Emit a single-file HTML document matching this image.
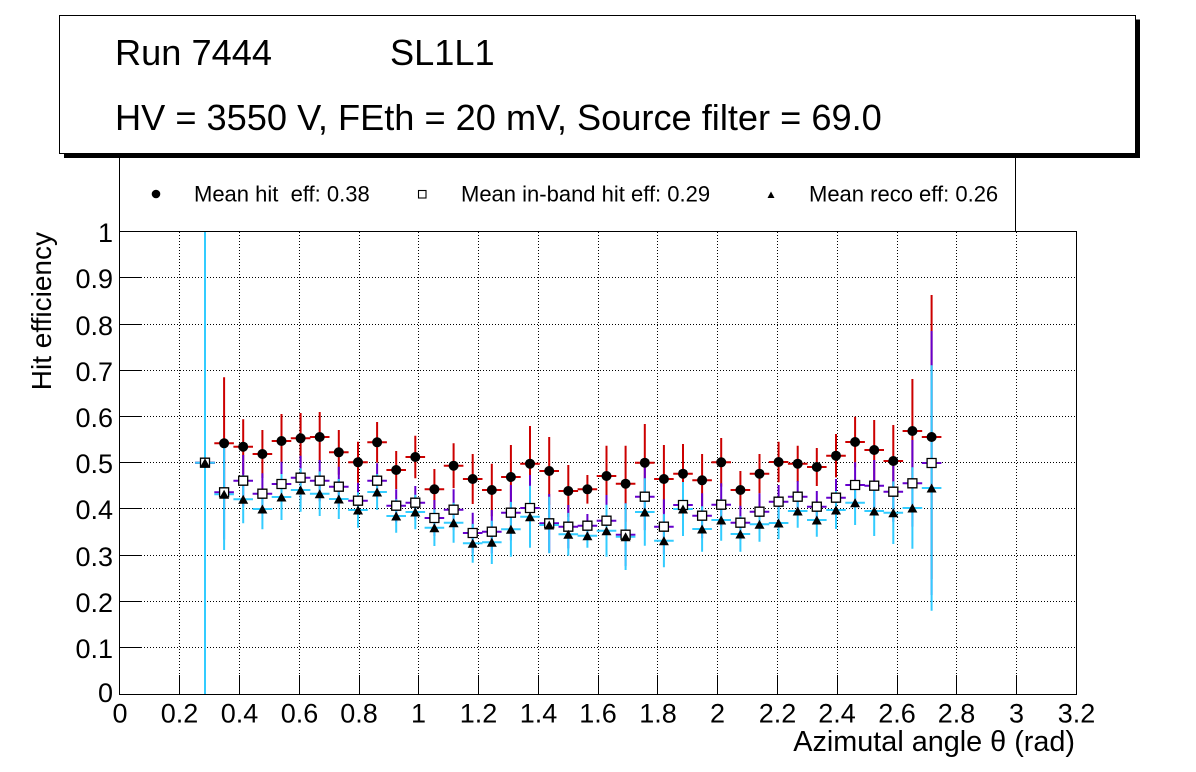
<!DOCTYPE html>
<html>
<head>
<meta charset="utf-8">
<style>
html,body{margin:0;padding:0;background:#fff;}
svg{display:block;}
text{font-family:"Liberation Sans",Arial,sans-serif;fill:#000;}
</style>
</head>
<body>
<svg width="1196" height="772" viewBox="0 0 1196 772" xmlns="http://www.w3.org/2000/svg">
<rect x="0" y="0" width="1196" height="772" fill="#fff"/>

<!-- Legend box -->
<rect x="119.5" y="140.5" width="896" height="91" fill="#fff" stroke="#000" stroke-width="1"/>
<circle cx="156" cy="194" r="4.3" fill="#000"/>
<rect x="418.5" y="190.5" width="7.5" height="7.5" fill="#fff" stroke="#000" stroke-width="1.1"/>
<path d="M767.5 198h7l-3.5-6.5z" fill="#000"/>
<text x="194" y="201.5" font-size="22" xml:space="preserve">Mean hit  eff: 0.38</text>
<text x="461" y="201.5" font-size="22">Mean in-band hit eff: 0.29</text>
<text x="809" y="201.5" font-size="22">Mean reco eff: 0.26</text>

<!-- Header box with shadow -->
<rect x="64" y="19.5" width="1076" height="138.5" fill="#000"/>
<rect x="59.5" y="15.5" width="1076" height="138" fill="#fff" stroke="#000" stroke-width="1"/>
<text x="115" y="65" font-size="36.2">Run 7444</text>
<text x="390" y="65" font-size="36.2">SL1L1</text>
<text x="115" y="130" font-size="36.2">HV = 3550 V, FEth = 20 mV, Source filter = 69.0</text>

<!-- Grid -->
<g stroke="#000" stroke-width="1" stroke-dasharray="1 2" fill="none">
<path d="M179.5 232V694M239.5 232V694M299.5 232V694M359.5 232V694M418.5 232V694M478.5 232V694M538.5 232V694M598.5 232V694M657.5 232V694M717.5 232V694M777.5 232V694M837.5 232V694M897.5 232V694M956.5 232V694M1016.5 232V694"/>
<path d="M120 277.5H1076M120 324.5H1076M120 370.5H1076M120 416.5H1076M120 462.5H1076M120 508.5H1076M120 555.5H1076M120 601.5H1076M120 647.5H1076"/>
</g>

<!-- Frame -->
<rect x="119.5" y="231.5" width="957" height="463" fill="none" stroke="#000" stroke-width="1"/>
<!-- Ticks -->
<g stroke="#000" stroke-width="1" fill="none">
<path d="M120 277.5H141M120 324.5H141M120 370.5H141M120 416.5H141M120 462.5H141M120 508.5H141M120 555.5H141M120 601.5H141M120 647.5H141"/>
<path d="M179.5 694V675M239.5 694V675M299.5 694V675M359.5 694V675M418.5 694V675M478.5 694V675M538.5 694V675M598.5 694V675M657.5 694V675M717.5 694V675M777.5 694V675M837.5 694V675M897.5 694V675M956.5 694V675M1016.5 694V675"/>
</g>

<!-- Y tick labels -->
<g font-size="27" text-anchor="end">
<text x="113" y="242">1</text>
<text x="113" y="288">0.9</text>
<text x="113" y="335">0.8</text>
<text x="113" y="381">0.7</text>
<text x="113" y="427">0.6</text>
<text x="113" y="473">0.5</text>
<text x="113" y="519">0.4</text>
<text x="113" y="566">0.3</text>
<text x="113" y="612">0.2</text>
<text x="113" y="658">0.1</text>
<text x="113" y="702">0</text>
</g>
<!-- X tick labels -->
<g font-size="27" text-anchor="middle">
<text x="120" y="722.5">0</text>
<text x="179.5" y="722.5">0.2</text>
<text x="239.5" y="722.5">0.4</text>
<text x="299.5" y="722.5">0.6</text>
<text x="359" y="722.5">0.8</text>
<text x="418.5" y="722.5">1</text>
<text x="478.5" y="722.5">1.2</text>
<text x="538.5" y="722.5">1.4</text>
<text x="598" y="722.5">1.6</text>
<text x="658" y="722.5">1.8</text>
<text x="717.5" y="722.5">2</text>
<text x="777.5" y="722.5">2.2</text>
<text x="837" y="722.5">2.4</text>
<text x="897" y="722.5">2.6</text>
<text x="956.5" y="722.5">2.8</text>
<text x="1016.5" y="722.5">3</text>
<text x="1076.5" y="722.5">3.2</text>
</g>

<!-- Axis titles -->
<text x="1075" y="751" font-size="28.8" text-anchor="end">Azimutal angle θ (rad)</text>
<text transform="translate(51,232) rotate(-90)" font-size="28" text-anchor="end">Hit efficiency</text>

<!-- Red error bars -->
<path fill="none" stroke="#cc0000" stroke-width="2" d="M205 232V694M195.2 462.7H214.8
M224.1 377.3V509.3M214.3 443.3H233.9
M243.2 419.3V474.1M233.4 446.7H253
M262.4 430V478M252.6 454H272.2
M281.5 414V468M271.7 441H291.3
M300.6 413V463.6M290.8 438.3H310.4
M319.7 412V462M309.9 437H329.5
M338.8 430V474.6M329 452.3H348.6
M358 441.7V482.9M348.2 462.3H367.8
M377.1 422V462.6M367.3 442.3H386.9
M396.2 451V489M386.4 470H406
M415.3 435.7V478.3M405.5 457H425.1
M434.4 469V509.6M424.6 489.3H444.2
M453.6 443.3V488.1M443.8 465.7H463.4
M472.7 454V504M462.9 479H482.5
M491.8 463.7V516.3M482 490H501.6
M510.9 445V509M501.1 477H520.7
M530 426V501.4M520.2 463.7H539.8
M549.2 437V505M539.4 471H559
M568.3 465V517M558.5 491H578.1
M587.4 475V503.6M577.6 489.3H597.2
M606.5 445.7V506.3M596.7 476H616.3
M625.6 445.7V521.7M615.8 483.7H635.4
M644.8 424V501.4M635 462.7H654.6
M663.9 445V513M654.1 479H673.7
M683 444V503.4M673.2 473.7H692.8
M702.1 454V506.6M692.3 480.3H711.9
M721.2 438V486.6M711.4 462.3H731
M740.4 471V509M730.6 490H750.2
M759.5 454V493.4M749.7 473.7H769.3
M778.6 441.7V482.3M768.8 462H788.4
M797.7 445.7V481.7M787.9 463.7H807.5
M816.8 448V486M807 467H826.6
M836 434V477.4M826.2 455.7H845.8
M855.1 416.7V467.3M845.3 442H864.9
M874.2 420V480M864.4 450H884
M893.3 425V497M883.5 461H903.1
M912.4 379V483M902.6 431H922.2
M931.6 295V579M921.8 437H941.4"/>

<!-- Purple error bars -->
<path fill="none" stroke="#6600cc" stroke-width="2" d="M205 232V694M195.2 462.7H214.8
M224.1 445V539.6M214.3 492.3H233.9
M243.2 455V506.4M233.4 480.7H253
M262.4 473.3V514.1M252.6 493.7H272.2
M281.5 461.7V506.3M271.7 484H291.3
M300.6 455.7V499.7M290.8 477.7H310.4
M319.7 460V501.4M309.9 480.7H329.5
M338.8 466.7V506.7M329 486.7H348.6
M358 482.7V518.7M348.2 500.7H367.8
M377.1 463.3V498.1M367.3 480.7H386.9
M396.2 489.3V522.1M386.4 505.7H406
M415.3 486V519.4M405.5 502.7H425.1
M434.4 500V536M424.6 518H444.2
M453.6 489.3V530.1M443.8 509.7H463.4
M472.7 512.7V553.3M462.9 533H482.5
M491.8 510V553.4M482 531.7H501.6
M510.9 485V540.4M501.1 512.7H520.7
M530 475V541M520.2 508H539.8
M549.2 494V552.6M539.4 523.3H559
M568.3 505V548.4M558.5 526.7H578.1
M587.4 514V537.4M577.6 525.7H597.2
M606.5 495V546.4M596.7 520.7H616.3
M625.6 503.3V566.1M615.8 534.7H635.4
M644.8 463.3V530.1M635 496.7H654.6
M663.9 499.3V554.1M654.1 526.7H673.7
M683 482.7V527.3M673.2 505H692.8
M702.1 493.3V538.1M692.3 515.7H711.9
M721.2 483.3V526.1M711.4 504.7H731
M740.4 505.7V539.7M730.6 522.7H750.2
M759.5 493.3V530.1M749.7 511.7H769.3
M778.6 485V518.4M768.8 501.7H788.4
M797.7 481V512.4M787.9 496.7H807.5
M816.8 491V522.4M807 506.7H826.6
M836 479V516.4M826.2 497.7H845.8
M855.1 462.3V507.7M845.3 485H864.9
M874.2 460V511.4M864.4 485.7H884
M893.3 461.7V521.7M883.5 491.7H903.1
M912.4 440V526.6M902.6 483.3H922.2
M931.6 331V595M921.8 463H941.4"/>

<!-- Cyan error bars -->
<path fill="none" stroke="#33ccff" stroke-width="2" d="M205 232V694M195.2 462.7H214.8
M224.1 438.6V550M214.3 494.3H233.9
M243.2 475.3V523.3M233.4 499.3H253
M262.4 488.7V529.3M252.6 509H272.2
M281.5 474V520M271.7 497H291.3
M300.6 468.3V511.7M290.8 490H310.4
M319.7 471.4V516M309.9 493.7H329.5
M338.8 479V519M329 499H348.6
M358 492.3V527.7M348.2 510H367.8
M377.1 474V510M367.3 492H386.9
M396.2 499.3V532.7M386.4 516H406
M415.3 494.7V529.3M405.5 512H425.1
M434.4 509.4V546M424.6 527.7H444.2
M453.6 502.7V542.7M443.8 522.7H463.4
M472.7 523.9V562.7M462.9 543.3H482.5
M491.8 520.6V564M482 542.3H501.6
M510.9 501.9V556.7M501.1 529.3H520.7
M530 485.7V547.7M520.2 516.7H539.8
M549.2 496.7V553.3M539.4 525H559
M568.3 512.9V555.7M558.5 534.3H578.1
M587.4 523.7V547.7M577.6 535.7H597.2
M606.5 504.7V556.7M596.7 530.7H616.3
M625.6 503.4V570M615.8 536.7H635.4
M644.8 478.3V545.7M635 512H654.6
M663.9 514.1V567.3M654.1 540.7H673.7
M683 482V536M673.2 509H692.8
M702.1 506.3V551.7M692.3 529H711.9
M721.2 499.3V540.7M711.4 520H731
M740.4 516.3V551.7M730.6 534H750.2
M759.5 506.9V541.7M749.7 524.3H769.3
M778.6 506.7V539.3M768.8 523H788.4
M797.7 494.3V527.7M787.9 511H807.5
M816.8 503.3V536.7M807 520H826.6
M836 491V529M826.2 510H845.8
M855.1 480.4V525M845.3 502.7H864.9
M874.2 486V536M864.4 511H884
M893.3 481.4V544M883.5 512.7H903.1
M912.4 467.3V548.7M902.6 508H922.2
M931.6 365.3V610.7M921.8 488H941.4"/>

<!-- Circle markers -->
<g fill="#000">
<circle cx="205" cy="462.7" r="5"/><circle cx="224.1" cy="443.3" r="5"/><circle cx="243.2" cy="446.7" r="5"/>
<circle cx="262.4" cy="454" r="5"/><circle cx="281.5" cy="441" r="5"/><circle cx="300.6" cy="438.3" r="5"/>
<circle cx="319.7" cy="437" r="5"/><circle cx="338.8" cy="452.3" r="5"/><circle cx="358" cy="462.3" r="5"/>
<circle cx="377.1" cy="442.3" r="5"/><circle cx="396.2" cy="470" r="5"/><circle cx="415.3" cy="457" r="5"/>
<circle cx="434.4" cy="489.3" r="5"/><circle cx="453.6" cy="465.7" r="5"/><circle cx="472.7" cy="479" r="5"/>
<circle cx="491.8" cy="490" r="5"/><circle cx="510.9" cy="477" r="5"/><circle cx="530" cy="463.7" r="5"/>
<circle cx="549.2" cy="471" r="5"/><circle cx="568.3" cy="491" r="5"/><circle cx="587.4" cy="489.3" r="5"/>
<circle cx="606.5" cy="476" r="5"/><circle cx="625.6" cy="483.7" r="5"/><circle cx="644.8" cy="462.7" r="5"/>
<circle cx="663.9" cy="479" r="5"/><circle cx="683" cy="473.7" r="5"/><circle cx="702.1" cy="480.3" r="5"/>
<circle cx="721.2" cy="462.3" r="5"/><circle cx="740.4" cy="490" r="5"/><circle cx="759.5" cy="473.7" r="5"/>
<circle cx="778.6" cy="462" r="5"/><circle cx="797.7" cy="463.7" r="5"/><circle cx="816.8" cy="467" r="5"/>
<circle cx="836" cy="455.7" r="5"/><circle cx="855.1" cy="442" r="5"/><circle cx="874.2" cy="450" r="5"/>
<circle cx="893.3" cy="461" r="5"/><circle cx="912.4" cy="431" r="5"/><circle cx="931.6" cy="437" r="5"/>
</g>

<!-- Square markers -->
<path fill="#fff" stroke="#000" stroke-width="1.3" d="M200.5 458.2h9v9h-9z
M219.6 487.8h9v9h-9zM238.7 476.2h9v9h-9zM257.9 489.2h9v9h-9zM277 479.5h9v9h-9zM296.1 473.2h9v9h-9z
M315.2 476.2h9v9h-9zM334.3 482.2h9v9h-9zM353.5 496.2h9v9h-9zM372.6 476.2h9v9h-9zM391.7 501.2h9v9h-9z
M410.8 498.2h9v9h-9zM429.9 513.5h9v9h-9zM449.1 505.2h9v9h-9zM468.2 528.5h9v9h-9zM487.3 527.2h9v9h-9z
M506.4 508.2h9v9h-9zM525.5 503.5h9v9h-9zM544.7 518.8h9v9h-9zM563.8 522.2h9v9h-9zM582.9 521.2h9v9h-9z
M602 516.2h9v9h-9zM621.1 530.2h9v9h-9zM640.3 492.2h9v9h-9zM659.4 522.2h9v9h-9zM678.5 500.5h9v9h-9z
M697.6 511.2h9v9h-9zM716.7 500.2h9v9h-9zM735.9 518.2h9v9h-9zM755 507.2h9v9h-9zM774.1 497.2h9v9h-9z
M793.2 492.2h9v9h-9zM812.3 502.2h9v9h-9zM831.5 493.2h9v9h-9zM850.6 480.5h9v9h-9zM869.7 481.2h9v9h-9z
M888.8 487.2h9v9h-9zM907.9 478.8h9v9h-9zM927.1 458.5h9v9h-9z"/>

<!-- Triangle markers -->
<path fill="#000" d="M200 467.2h10l-5-9z
M219.1 498.8h10l-5-9zM238.2 503.8h10l-5-9zM257.4 513.5h10l-5-9zM276.5 501.5h10l-5-9zM295.6 494.5h10l-5-9z
M314.7 498.2h10l-5-9zM333.8 503.5h10l-5-9zM353 514.5h10l-5-9zM372.1 496.5h10l-5-9zM391.2 520.5h10l-5-9z
M410.3 516.5h10l-5-9zM429.4 532.2h10l-5-9zM448.6 527.2h10l-5-9zM467.7 547.8h10l-5-9zM486.8 546.8h10l-5-9z
M505.9 533.8h10l-5-9zM525 521.2h10l-5-9zM544.2 529.5h10l-5-9zM563.3 538.8h10l-5-9zM582.4 540.2h10l-5-9z
M601.5 535.2h10l-5-9zM620.6 541.2h10l-5-9zM639.8 516.5h10l-5-9zM658.9 545.2h10l-5-9zM678 513.5h10l-5-9z
M697.1 533.5h10l-5-9zM716.2 524.5h10l-5-9zM735.4 538.5h10l-5-9zM754.5 528.8h10l-5-9zM773.6 527.5h10l-5-9z
M792.7 515.5h10l-5-9zM811.8 524.5h10l-5-9zM831 514.5h10l-5-9zM850.1 507.2h10l-5-9zM869.2 515.5h10l-5-9z
M888.3 517.2h10l-5-9zM907.4 512.5h10l-5-9zM926.6 492.5h10l-5-9z"/>
</svg>
</body>
</html>
